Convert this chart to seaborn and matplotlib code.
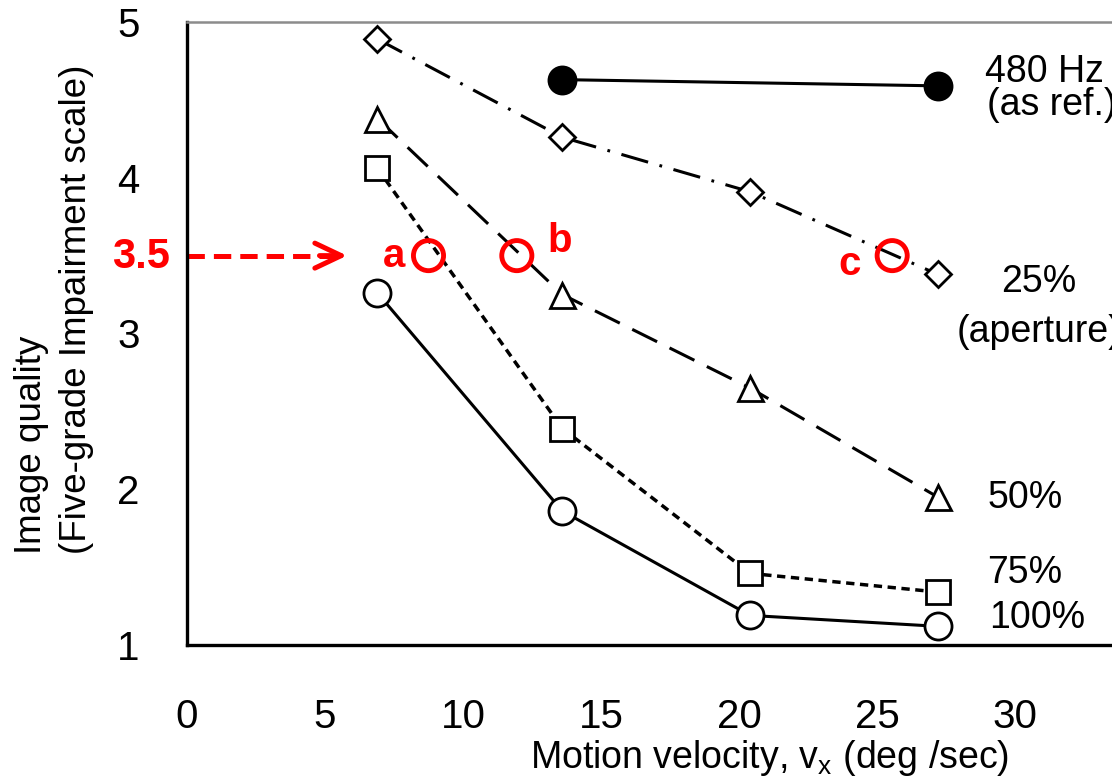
import matplotlib
matplotlib.use("Agg")
import matplotlib.pyplot as plt
import matplotlib.transforms as mtransforms
import seaborn as sns

# ---------------- data ----------------
velocity = [6.9, 13.6, 20.4, 27.2]          # deg/sec
ref_velocity = [13.6, 27.2]
q_480hz = [4.63, 4.59]
q_25 = [4.89, 4.26, 3.91, 3.38]
q_50 = [4.38, 3.25, 2.65, 1.95]
q_75 = [4.06, 2.39, 1.46, 1.34]
q_100 = [3.26, 1.86, 1.19, 1.12]

threshold = 3.5
crossing_x = [8.75, 11.95, 25.55]
crossing_labels = ["a", "b", "c"]

x_ticks = [0, 5, 10, 15, 20, 25, 30]
y_ticks = [1, 2, 3, 4, 5]

xlabel = "Motion velocity, v$_\\mathregular{x}$ (deg /sec)"
ylabel = "Image quality\n(Five-grade Impairment scale)"

# ---------------- style ----------------
sns.set_style("white")
plt.rcParams["font.family"] = ["Liberation Sans", "DejaVu Sans"]
plt.rcParams["mathtext.fontset"] = "custom"
plt.rcParams["mathtext.rm"] = "Liberation Sans"
plt.rcParams["mathtext.it"] = "Liberation Sans:italic"
plt.rcParams["lines.scale_dashes"] = False
for key in ["text.color", "axes.labelcolor", "xtick.color", "ytick.color"]:
    plt.rcParams[key] = "black"

W, H = 1112, 776
fig = plt.figure(figsize=(W / 100, H / 100), dpi=100)
ax = fig.add_axes([187 / W, 131 / H, 925 / W, 623 / H])

LW = 2.2
common = dict(ax=ax, color="black", linewidth=LW, markeredgecolor="black",
              markerfacecolor="white", markeredgewidth=2.0)

sns.lineplot(x=ref_velocity, y=q_480hz, marker="o", markersize=19.5,
             linestyle="-", **{**common, "markerfacecolor": "black"})
sns.lineplot(x=velocity, y=q_25, marker="D", markersize=13.5,
             linestyle=(0, (20, 8.5, 2, 8.5)), **common)
sns.lineplot(x=velocity, y=q_50, marker="^", markersize=18,
             linestyle=(0, (20, 10)), **common)
sns.lineplot(x=velocity, y=q_75, marker="s", markersize=17.5,
             linestyle=(0, (6, 4)), **{**common, "linewidth": 2.5})
sns.lineplot(x=velocity, y=q_100, marker="o", markersize=19.5,
             linestyle="-", **common)

# ---------------- red annotations ----------------
RED = "#ff0000"
tip_x = 5.8
ax.plot([0, tip_x - 0.35], [threshold, threshold], color=RED, lw=3.6,
        linestyle=(0, (12.5, 6.5)), solid_capstyle="butt", clip_on=False)
ax.annotate("", xy=(tip_x, threshold), xytext=(tip_x - 1.0, threshold),
            arrowprops=dict(arrowstyle="->,head_length=0.95,head_width=0.45",
                            color=RED, lw=3.6, mutation_scale=20,
                            shrinkA=0, shrinkB=0))
sns.scatterplot(x=crossing_x, y=[threshold] * len(crossing_x), ax=ax,
                marker="o", s=470, facecolor="none", edgecolor=RED,
                linewidth=3.5, zorder=5)
letter_pos = [(7.5, 3.427), (13.51, 3.523), (23.99, 3.376)]
for lab, (lx, ly) in zip(crossing_labels, letter_pos):
    ax.text(lx, ly, lab, color=RED, fontsize=29, fontweight="bold",
            ha="center", va="baseline")
blend = mtransforms.blended_transform_factory(ax.transAxes, ax.transData)
ax.text(-0.0185, 3.42, "3.5", transform=blend, color=RED, fontsize=30,
        fontweight="bold", ha="right", va="baseline", clip_on=False)

# ---------------- series labels ----------------
labels = [("480 Hz", 28.9, 4.615), ("(as ref.)", 28.98, 4.403),
          ("25%", 29.5, 3.266), ("(aperture)", 27.9, 2.945),
          ("50%", 29.0, 1.88), ("75%", 29.0, 1.398), ("100%", 29.06, 1.109)]
for txt, lx, ly in labels:
    ax.text(lx, ly, txt, fontsize=27, ha="left", va="baseline", clip_on=False)

# ---------------- axes ----------------
ax.set_xlim(0, 925 / 27.6)
ax.set_ylim(1, 5)
ax.set_xticks(x_ticks)
ax.set_yticks(y_ticks)
ax.set_xticklabels([str(t) for t in x_ticks])
ax.set_yticklabels([str(t) for t in y_ticks])
ax.tick_params(axis="both", direction="in", width=2.2, colors="black",
               labelsize=29)
ax.tick_params(axis="x", length=7, pad=38)
ax.tick_params(axis="y", length=9.5, pad=34)

for side in ["left", "bottom"]:
    ax.spines[side].set_color("black")
    ax.spines[side].set_linewidth(2.4)
ax.spines["top"].set_color("#8c8c8c")
ax.spines["top"].set_linewidth(1.8)
ax.spines["right"].set_visible(False)

ax.set_xlabel(xlabel, fontsize=27)
ax.xaxis.set_label_coords(0.63, -0.15)
ax.xaxis.label.set_va("top")
ax.set_ylabel(ylabel, fontsize=26.5, linespacing=1.4, multialignment="left")
ax.yaxis.set_label_coords(-0.1, 0.539)

fig.savefig("out.png", dpi=100)
